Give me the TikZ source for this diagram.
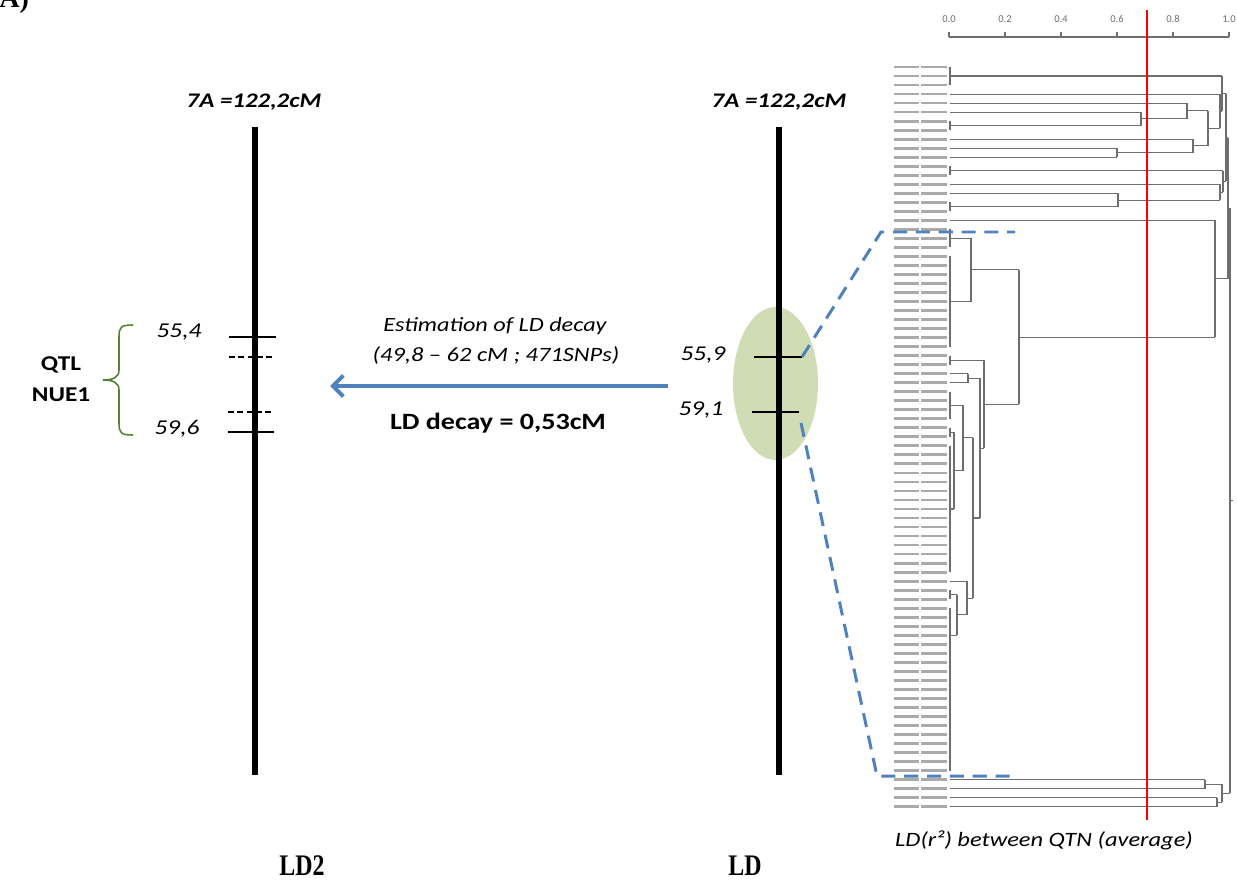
\documentclass[tikz,border=0pt]{standalone}
\usepackage{fontspec}
\setmainfont{Carlito}
\newfontfamily\timesfont{Liberation Serif}
\usepackage{graphicx}
\usetikzlibrary{arrows.meta}

\definecolor{arrowblue}{RGB}{79,129,189}
\definecolor{qtlgreen}{RGB}{84,130,53}
\definecolor{ldgreen}{RGB}{208,221,180}
\definecolor{treegray}{RGB}{110,110,110}
\definecolor{labelgray}{RGB}{170,170,170}

\newcommand{\ry}[1]{67+9.02*(#1)}
\newcommand{\wide}[1]{\scalebox{1.2}[1]{#1}}
\newcommand{\leafline}[2]{\draw[tree] (950,{\ry{#1}}) -- (#2,{\ry{#1}});}
\newcommand{\mergeline}[4]{\draw[tree] (#1,{\ry{#2}}) -- (#1,{\ry{#3}}) (#1,{\ry{(#2+#3)/2}}) -- (#4,{\ry{(#2+#3)/2}});}

\tikzset{
	chrom/.style={line width=3.4pt},
	marker/.style={line width=1.1pt},
	dmarker/.style={line width=0.9pt, dash pattern=on 3.5pt off 1.8pt},
	tree/.style={treegray, line width=0.6pt},
	zoomline/.style={arrowblue, line width=1.7pt, dash pattern=on 8pt off 5pt},
	pos label/.style={font=\itshape\fontsize{12}{14}\selectfont},
	chrom title/.style={font=\bfseries\itshape\fontsize{11.8}{13}\selectfont},
	map label/.style={font=\timesfont\bfseries\fontsize{17}{19}\selectfont},
}

\begin{document}
\begin{tikzpicture}[x=0.02cm, y=-0.02cm]
	\useasboundingbox (0,0) rectangle (1237,882);

	\node[anchor=base west, font=\timesfont\bfseries\fontsize{16}{18}\selectfont, inner sep=0pt] (panel) at (-1,8) {A)};

	% LD2 map
	\coordinate (ldtwotop) at (255,127);
	\coordinate (ldtwobot) at (255,775);
	\draw[chrom] (ldtwotop) -- (ldtwobot);
	\node[chrom title] (ldtwotitle) at (254,102) {\wide{7A =122,2cM}};
	\draw[marker] (229,337) -- (276,337);
	\draw[dmarker] (229,357) -- (275,357);
	\draw[dmarker] (228,412) -- (274,412);
	\draw[marker] (228,432) -- (274,432);
	\node[pos label] (posa) at (179,332) {\wide{55,4}};
	\node[pos label] (posb) at (177,429) {\wide{59,6}};
	\draw[qtlgreen, line width=0.9pt] (133,325) .. controls (121,325) and (119,327) .. (119,337) -- (119,370)
		.. controls (119,378) and (112,380) .. (103,380) .. controls (112,380) and (119,382) .. (119,390)
		-- (119,423) .. controls (119,433) and (121,435) .. (133,435);
	\node[font=\bfseries\fontsize{12}{14}\selectfont] (qtl) at (61,365) {\wide{QTL}};
	\node[font=\bfseries\fontsize{12}{14}\selectfont] (nue) at (61,395) {\wide{NUE1}};
	\node[map label] (ldtwo) at (302,866) {\scalebox{0.8}[1]{LD2}};

	% decay arrow
	\coordinate (arrowstart) at (668,386);
	\coordinate (arrowend) at (330,386);
	\draw[arrowblue, line width=2.3pt, -{Straight Barb[length=6pt,width=12pt]}] (arrowstart) -- (arrowend);
	\node[font=\itshape\fontsize{11.5}{13}\selectfont] (estim) at (495,326) {\wide{Estimation of LD decay}};
	\node[font=\itshape\fontsize{11.6}{13}\selectfont] (range) at (496,355) {\wide{(49,8 – 62 cM ; 471SNPs)}};
	\node[font=\bfseries\fontsize{13.3}{15}\selectfont] (decay) at (498,423) {\wide{LD decay = 0,53cM}};

	% LD map
	\fill[ldgreen] (775.5,383.5) ellipse [x radius=42.5, y radius=76.5];
	\coordinate (ldtop) at (779,127);
	\coordinate (ldbot) at (779,775);
	\draw[chrom] (ldtop) -- (ldbot);
	\node[chrom title] (ldtitle) at (779,102) {\wide{7A =122,2cM}};
	\draw[marker] (754,357) -- (802,357);
	\draw[marker] (752,412) -- (799,412);
	\node[pos label] (posc) at (703,355) {\wide{55,9}};
	\node[pos label] (posd) at (701,410) {\wide{59,1}};
	\node[map label] (ld) at (745,866) {\scalebox{0.8}[1]{LD}};

	% zoom to dendrogram
	\coordinate (zoomtopa) at (802,357);
	\coordinate (zoomtopb) at (881,232);
	\coordinate (zoomtopc) at (1015,232);
	\coordinate (zoombota) at (801,423);
	\coordinate (zoombotb) at (877,776);
	\coordinate (zoombotc) at (1010,776);

	% dendrogram
	\foreach \i in {0,...,82} {
		\fill[labelgray] (894,{\ry{\i}-1.4}) rectangle (919,{\ry{\i}+1.4});
		\fill[labelgray] (921,{\ry{\i}-1.4}) rectangle (947,{\ry{\i}+1.4});
	}
	\draw[treegray, line width=0.6pt] (949,37) -- (1229,37);
	\foreach \v [count=\k from 0] in {0.0,0.2,0.4,0.6,0.8,1.0} {
		\draw[treegray, line width=0.6pt] ({949+56*\k},37) -- ++(0,-5);
		\node[font=\fontsize{6}{7}\selectfont, text=treegray] (tick\k) at ({949+56*\k},19) {\v};
	}
	\leafline{3}{1220} \leafline{4}{1187} \leafline{5}{1141} \leafline{8}{1193}
	\leafline{9}{1117} \leafline{10}{1117} \leafline{13}{1220} \leafline{14}{1118}
	\leafline{17}{1215} \leafline{34}{968} \leafline{35}{968} \leafline{57}{967}
	\leafline{79}{1205} \leafline{80}{1205} \leafline{81}{1217} \leafline{82}{1217}
	\mergeline{950}{0}{2}{1222}
	\mergeline{950}{6}{7}{1141}
	\mergeline{1141}{5}{6.5}{1187}
	\mergeline{1187}{4}{5.75}{1208}
	\mergeline{1117}{9}{10}{1193}
	\mergeline{1193}{8}{9.5}{1208}
	\mergeline{1208}{4.875}{8.75}{1220}
	\mergeline{1220}{3}{6.8125}{1222}
	\mergeline{1222}{1}{4.90625}{1226}
	\mergeline{950}{11}{12}{1223}
	\mergeline{950}{15}{16}{1118}
	\mergeline{1118}{14}{15.5}{1220}
	\mergeline{1220}{13}{14.75}{1223}
	\mergeline{1223}{11.5}{13.875}{1226}
	\mergeline{1226}{2.953125}{12.6875}{1228}
	\mergeline{950}{18}{20}{971}
	\mergeline{950}{21}{31}{971}
	\mergeline{971}{19}{26}{1019}
	\mergeline{950}{32}{33}{984}
	\mergeline{968}{34}{35}{980}
	\mergeline{950}{36}{39}{963}
	\mergeline{950}{40}{41}{954}
	\mergeline{950}{42}{56}{954}
	\mergeline{954}{40.5}{49}{963}
	\mergeline{963}{37.5}{44.75}{973}
	\mergeline{950}{58}{59}{957}
	\mergeline{950}{60}{66}{957}
	\draw[tree] (950,{\ry{66}}) -- (950,{\ry{78}});
	\mergeline{957}{58.5}{63}{967}
	\mergeline{967}{57}{60.75}{973}
	\mergeline{973}{41.125}{58.875}{980}
	\mergeline{980}{34.5}{50}{984}
	\mergeline{984}{32.5}{42.25}{1019}
	\mergeline{1019}{22.5}{37.375}{1215}
	\mergeline{1215}{17}{29.9375}{1228}
	\mergeline{1228}{7.8203}{23.4688}{1230}
	\mergeline{1205}{79}{80}{1222}
	\mergeline{1217}{81}{82}{1222}
	\mergeline{1222}{79.5}{81.5}{1230}
	\mergeline{1230}{15.6445}{80.5}{1233}
	\draw[red, line width=1.2pt] (1147,10) -- (1147,820);
	\node[font=\itshape\fontsize{11.6}{13}\selectfont] (ldaxis) at (1044,840) {\wide{LD(r²) between QTN (average)}};

	\draw[zoomline] (zoomtopa) -- (zoomtopb) -- (zoomtopc);
	\draw[zoomline] (zoombota) -- (zoombotb) -- (zoombotc);
\end{tikzpicture}
\end{document}
